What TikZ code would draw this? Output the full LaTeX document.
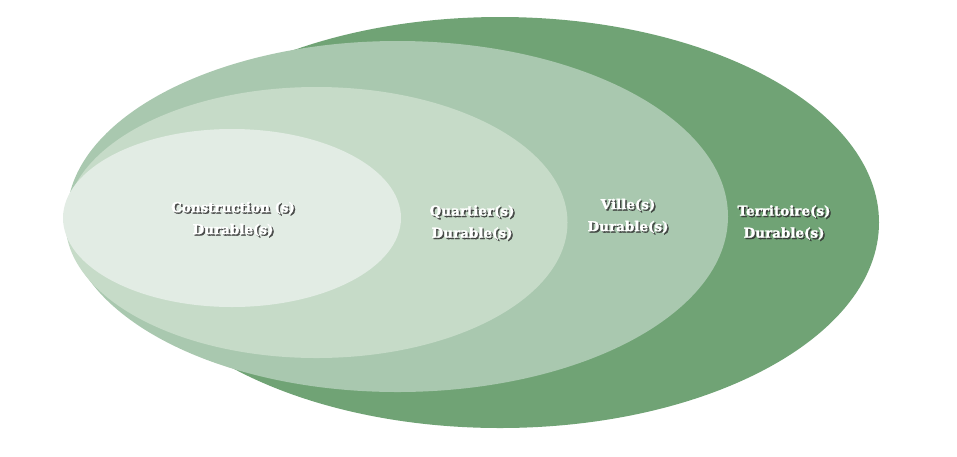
\documentclass[tikz,border=0pt]{standalone}
\usepackage{fontspec}
\setmainfont{DejaVu Serif}
\newfontfamily\lblfont{DejaVu Serif}[UprightFont={* Bold}, FakeBold=1.6]
\definecolor{gTerr}{RGB}{112,163,117}
\definecolor{gVille}{RGB}{169,200,175}
\definecolor{gQuart}{RGB}{198,219,200}
\definecolor{gCons}{RGB}{226,236,228}
\tikzset{
  lbl/.style={text=white, font=\lblfont\fontsize{13.5}{22}\selectfont, align=center, inner sep=0pt},
  lblshadow/.style={text=black!80, font=\lblfont\fontsize{13.5}{22}\selectfont, align=center, inner sep=0pt, opacity=0.85}
}
\newcommand{\shadowlabel}[3]{%
  \node[lblshadow] at ([xshift=1.5pt,yshift=-1.5pt]#1) {#3};
  \node[lbl] (#2) at (#1) {#3};
}
\begin{document}
\begin{tikzpicture}[x=1pt,y=-1pt]
\useasboundingbox (0,0) rectangle (957,456);
\fill[gTerr] (500,222.5) ellipse [x radius=379, y radius=205.5];
\fill[gVille] (397.5,216.5) ellipse [x radius=330.5, y radius=175.5];
\fill[gQuart] (316.5,222.5) ellipse [x radius=251, y radius=135.5];
\fill[gCons] (232,218) ellipse [x radius=169, y radius=89];
\coordinate (pc) at (233,219);
\coordinate (pq) at (472,222.5);
\coordinate (pv) at (628,216);
\coordinate (pt) at (784,222.5);
\shadowlabel{pc}{cons}{Construction (s)\\Durable(s)}
\shadowlabel{pq}{quart}{Quartier(s)\\Durable(s)}
\shadowlabel{pv}{ville}{Ville(s)\\Durable(s)}
\shadowlabel{pt}{terr}{Territoire(s)\\Durable(s)}
\end{tikzpicture}
\end{document}
